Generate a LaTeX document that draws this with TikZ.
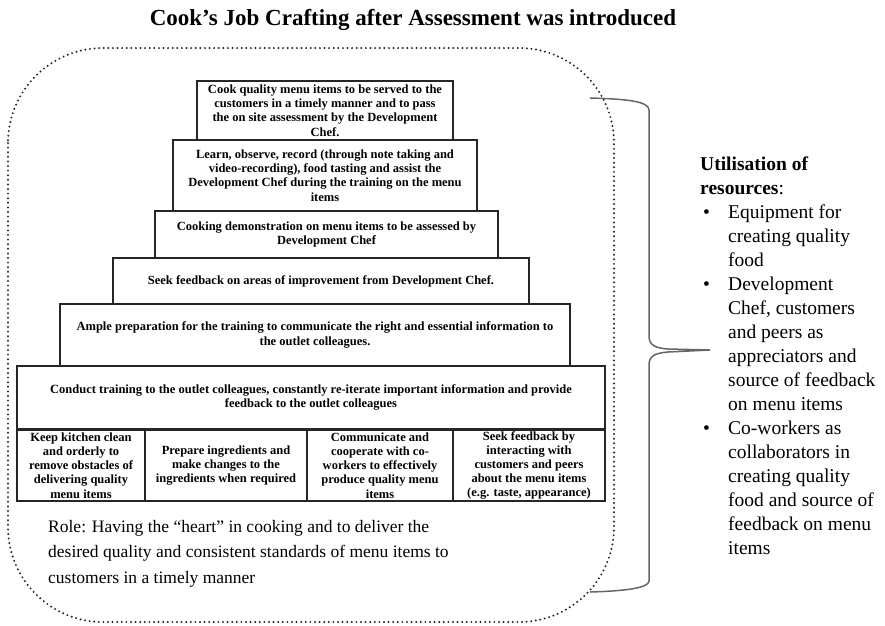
\documentclass[tikz,border=0pt]{standalone}
\usepackage{fontspec}
\setmainfont{Liberation Serif}
\newcommand\bul{\hspace*{3pt}\makebox[25pt][l]{\textbullet}}
\newcommand\ind{\hspace*{28pt}}
\begin{document}
\begin{tikzpicture}[x=1pt,y=-1pt,
  tier/.style={draw=black!85, line width=1.8pt, inner sep=0pt, align=center,
    font=\bfseries\fontsize{12.5}{14.2}\selectfont},
  border/.style={draw=black!85, line width=2.2pt, dash pattern=on 0pt off 4.6pt,
    line cap=round, rounded corners=95pt},
  brace/.style={draw=black!60, line width=1.5pt}]
\useasboundingbox (0,0) rectangle (885,625);

% heading
\node[font=\bfseries\fontsize{23}{26}\selectfont] (title) at (413,20)
  {Cook’s Job Crafting after Assessment was introduced};

% dotted rounded frame around the pyramid
\draw[border] (8,48) rectangle (614,622);

% pyramid tiers, top to bottom
\node[tier, fill=white, minimum width=256pt, minimum height=59pt] (t1) at (325,110.5)
  {\fontsize{12.5}{13.2}\selectfont Cook quality menu items to be served to the\\
   customers in a timely manner and to pass\\
   the on site assessment by the Development\\ Chef.};
\node[tier, minimum width=304pt, minimum height=71pt] (t2) at (325,175.5)
  {Learn, observe, record (through note taking and\\
   video-recording), food tasting and assist the\\
   Development Chef during the training on the menu\\ items};
\node[tier, minimum width=343pt, minimum height=47pt] (t3) at (326.5,234.5)
  {Cooking demonstration on menu items to be assessed by\\ Development Chef};
\node[tier, minimum width=416pt, minimum height=46pt] (t4) at (321,281)
  {Seek feedback on areas of improvement from Development Chef.};
\node[tier, minimum width=510pt, minimum height=62pt] (t5) at (315,335)
  {Ample preparation for the training to communicate the right and essential information to\\
   the outlet colleagues.};
\node[tier, minimum width=588pt, minimum height=63pt] (t6) at (311,397.5)
  {Conduct training to the outlet colleagues, constantly re-iterate important information and provide\\
   feedback to the outlet colleagues};

% base row of four tasks
\node[tier, minimum width=128pt, minimum height=71pt] (c1) at (81,465.5)
  {Keep kitchen clean\\ and orderly to\\ remove obstacles of\\ delivering quality\\ menu items};
\node[tier, minimum width=162pt, minimum height=71pt] (c2) at (226,465.5)
  {Prepare ingredients and\\ make changes to the\\ ingredients when required};
\node[tier, minimum width=146pt, minimum height=71pt] (c3) at (380,465.5)
  {Communicate and\\ cooperate with co-\\ workers to effectively\\ produce quality menu\\ items};
\node[tier, minimum width=152pt, minimum height=71pt] (c4) at (529,465.5)
  {Seek feedback by\\ interacting with\\ customers and peers\\ about the menu items\\ (e.g. taste, appearance)};

% role statement (base anchor sits on the last line)
\node[anchor=base west, inner sep=0pt, align=left,
  font=\fontsize{17.5}{25.5}\selectfont] (role) at (48,583)
  {Role: Having the “heart” in cooking and to deliver the\\
   desired quality and consistent standards of menu items to\\
   customers in a timely manner};

% curly brace
\draw[brace] (590,98) .. controls (625,99) and (649,101) .. (649,110)
  -- (649,336) .. controls (649,345) and (655,348) .. (668,349) -- (710,350)
  -- (668,352) .. controls (655,353) and (649,356) .. (649,365)
  -- (649,581) .. controls (649,588) and (625,591) .. (590,592);

% resources list (base anchor sits on the last line)
\node[anchor=base west, inner sep=0pt, align=left,
  font=\fontsize{19.5}{24}\selectfont] (res) at (700,554)
  {\textbf{Utilisation of}\\
   \textbf{resources}:\\
   \bul Equipment for\\
   \ind creating quality\\
   \ind food\\
   \bul Development\\
   \ind Chef, customers\\
   \ind and peers as\\
   \ind appreciators and\\
   \ind source of feedback\\
   \ind on menu items\\
   \bul Co-workers as\\
   \ind collaborators in\\
   \ind creating quality\\
   \ind food and source of\\
   \ind feedback on menu\\
   \ind items};
\end{tikzpicture}
\end{document}
